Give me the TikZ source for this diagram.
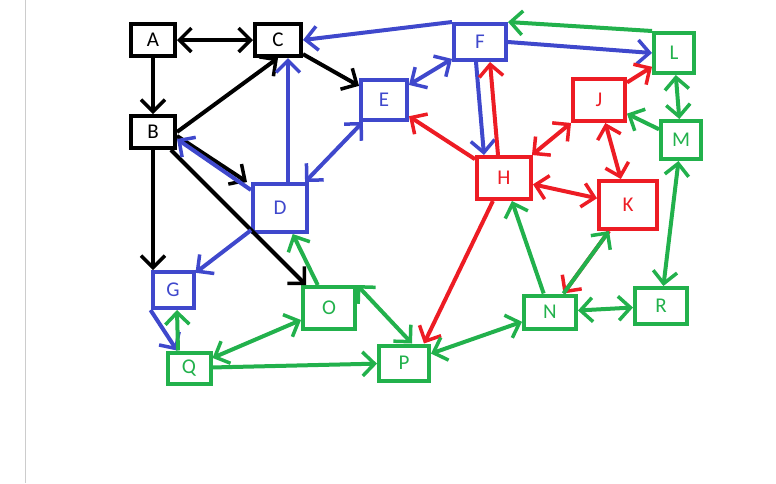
\documentclass[tikz,border=0pt]{standalone}
\usepackage{fontspec}
\setmainfont{Carlito}
\usetikzlibrary{arrows.meta}
\definecolor{cb}{RGB}{63,72,204}
\definecolor{cr}{RGB}{237,28,36}
\definecolor{cg}{RGB}{34,177,76}
\begin{document}
\begin{tikzpicture}[x=1pt,y=-1pt,
  bx/.style={draw,line width=4pt,inner sep=0pt,font=\fontsize{21}{21}\selectfont},
  ed/.style={line width=4pt,-{Straight Barb[length=12pt,width=24pt,line width=3.5pt]}},
  bi/.style={line width=4pt,{Straight Barb[length=12pt,width=24pt,line width=3.5pt]}-{Straight Barb[length=12pt,width=24pt,line width=3.5pt]}}]
\useasboundingbox (0,0) rectangle (776,483);
\draw[gray!40,line width=1pt] (25,0) -- (25,483);
\node[bx,minimum width=44pt,minimum height=32pt] (A) at (153,40) {A};
\node[bx,minimum width=46pt,minimum height=32pt] (C) at (278,40) {C};
\node[bx,minimum width=44pt,minimum height=32pt] (B) at (153,132) {B};
\node[bx,cb,text=cb,minimum width=46pt,minimum height=40pt] (E) at (384,100) {E};
\node[bx,cb,text=cb,minimum width=52pt,minimum height=36pt] (F) at (480,42) {F};
\node[bx,cb,text=cb,minimum width=54pt,minimum height=48pt] (D) at (280,208) {D};
\node[bx,cb,text=cb,minimum width=41pt,minimum height=36pt] (G) at (173,290) {G};
\node[bx,cr,text=cr,minimum width=52pt,minimum height=42pt] (J) at (599,100) {J};
\node[bx,cr,text=cr,minimum width=54pt,minimum height=42pt] (H) at (504,178) {H};
\node[bx,cr,text=cr,minimum width=58pt,minimum height=48pt] (K) at (628,205) {K};
\node[bx,cg,text=cg,minimum width=40pt,minimum height=40pt] (L) at (674,53) {L};
\node[bx,cg,text=cg,minimum width=40pt,minimum height=38pt] (M) at (681,140) {M};
\node[bx,cg,text=cg,minimum width=52pt,minimum height=42pt] (O) at (329,308) {O};
\node[bx,cg,text=cg,minimum width=52pt,minimum height=33pt] (N) at (550,312) {N};
\node[bx,cg,text=cg,minimum width=52pt,minimum height=36pt] (R) at (661,306) {R};
\node[bx,cg,text=cg,minimum width=50pt,minimum height=35pt] (P) at (404,363) {P};
\node[bx,cg,text=cg,minimum width=43pt,minimum height=31pt] (Q) at (189,368) {Q};
% black
\draw[bi] (A) -- (C);
\draw[ed] (A) -- (B);
\draw[ed] (B.east) -- (C.south);
\draw[ed] ([yshift=-4pt]B.east) -- ([xshift=-4pt]D.north west);
\draw[ed] (B.south) -- (B.south |- G.north);
\draw[ed] (B) -- (O);
\draw[ed] (C) -- (E);
% blue
\begin{scope}[cb]
\draw[ed] ([xshift=8pt]D.north) -- ([xshift=10pt]C.south);
\draw[ed] ([yshift=-8pt]D.north west) -- ([yshift=-7pt]B.east);
\draw[bi] (D) -- (E);
\draw[ed] (D) -- (G);
\draw[ed] (G.south west) -- ([xshift=-12pt]Q.north);
\draw[bi] (E) -- (F);
\draw[ed] ([xshift=-4pt]F.south) -- ([xshift=-20pt]H.north);
\draw[ed] (F.north west) -- (C.east);
\draw[ed] (F.east) -- (L.west);
\end{scope}
% red
\begin{scope}[cr]
\draw[ed] (H) -- (E);
\draw[ed] ([xshift=-6pt]H.north) -- ([xshift=10pt]F.south);
\draw[bi] (H) -- (J);
\draw[bi] (H) -- (K);
\draw[bi] (J) -- (K);
\draw[ed] (J) -- (L);
\draw[ed] (H) -- ([xshift=20pt]P.north);
\draw[ed] (K) -- (N);
\end{scope}
% green
\begin{scope}[cg]
\draw[ed] (L.north west) -- (F.north east);
\draw[bi] (L) -- (M);
\draw[ed] (M) -- (J);
\draw[bi] (M) -- (R);
\draw[ed] (N) -- (H);
\draw[ed] (N) -- (K);
\draw[bi] (N) -- (R);
\draw[bi] (N) -- (P);
\draw[ed] (O) -- (D);
\draw[bi] (O.north east) -- ([xshift=8pt]P.north);
\draw[bi] (O) -- (Q);
\draw[ed] ([xshift=-11pt]Q.north) -- ([xshift=4pt]G.south);
\draw[ed] (Q) -- (P);
\end{scope}
\end{tikzpicture}
\end{document}
